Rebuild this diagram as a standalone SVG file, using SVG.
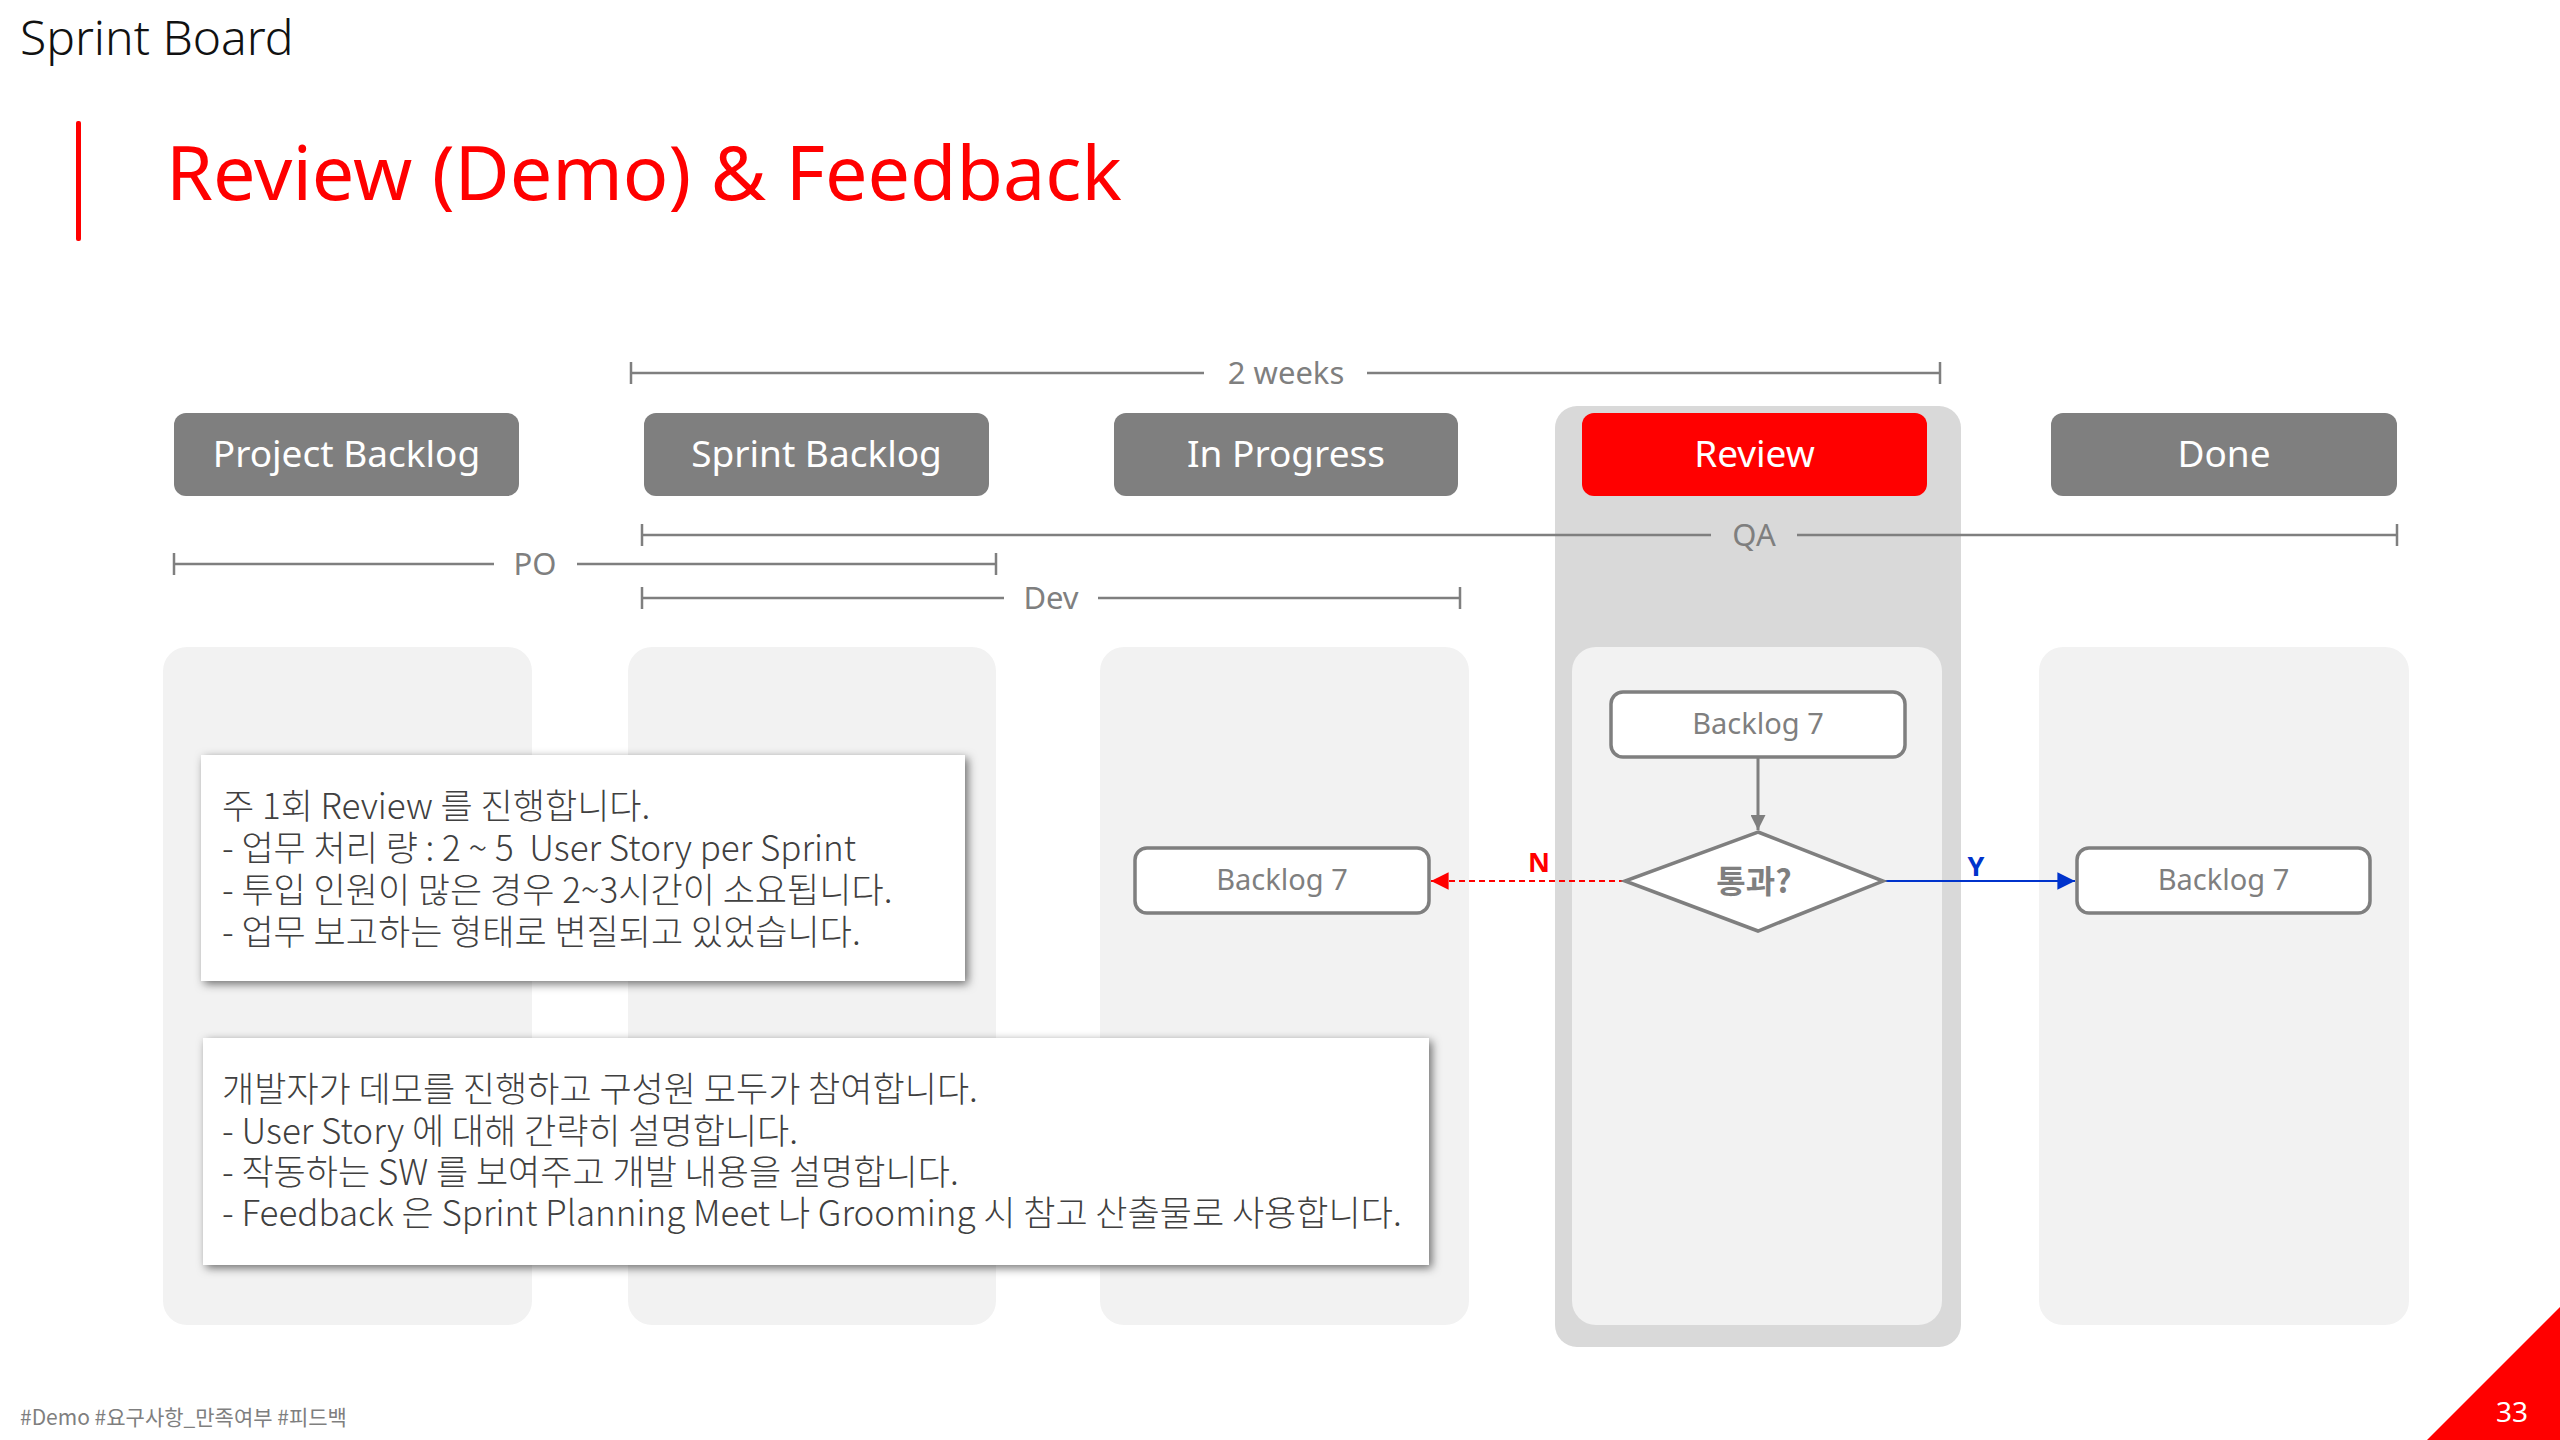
<svg xmlns="http://www.w3.org/2000/svg" width="2560" height="1440" viewBox="0 0 2560 1440">
<defs>
<style>
.lat{font-family:"Noto Sans","Noto Sans CJK KR",sans-serif}
.kr{font-family:"Noto Sans CJK KR","Noto Sans",sans-serif}
.hdr{fill:#7F7F7F}
.hdrtxt{fill:#FFFFFF;font-size:37px;text-anchor:middle}
.lane{fill:#F2F2F2}
.span{stroke:#7F7F7F;stroke-width:2.5;fill:none}
.spantxt{fill:#7F7F7F;font-size:31px;text-anchor:middle}
.card{fill:#FFFFFF;stroke:#7F7F7F;stroke-width:3.5}
.cardtxt{fill:#7F7F7F;font-size:29px;text-anchor:middle}
.body{fill:#404040;font-size:35px;font-weight:300;white-space:pre}
</style>
<filter id="sh" x="-10%" y="-20%" width="120%" height="140%">
<feDropShadow dx="3" dy="3" stdDeviation="5" flood-color="#000" flood-opacity="0.55"/>
</filter>
<marker id="ag" viewBox="0 0 10 10" refX="10" refY="5" markerWidth="5" markerHeight="5" markerUnits="strokeWidth" orient="auto"><path d="M0,0 L10,5 L0,10 z" fill="#7F7F7F"/></marker>
<marker id="ar" viewBox="0 0 10 10" refX="10" refY="5" markerWidth="8" markerHeight="8" markerUnits="strokeWidth" orient="auto"><path d="M0,0 L10,5 L0,10 z" fill="#FF0000"/></marker>
<marker id="ab" viewBox="0 0 10 10" refX="10" refY="5" markerWidth="8" markerHeight="8" markerUnits="strokeWidth" orient="auto"><path d="M0,0 L10,5 L0,10 z" fill="#0033CC"/></marker>
</defs>
<rect width="2560" height="1440" fill="#FFFFFF"/>

<g id="page-header">
<text class="lat" x="20" y="55" font-size="48" fill="#111111" font-weight="300">Sprint Board</text>
<rect x="76" y="121" width="5" height="120" fill="#FF0000" rx="2"/>
<text class="lat" x="166" y="200" font-size="75.5" fill="#FF0000">Review (Demo) &amp; Feedback</text>
</g>

<g id="review-column-bg">
<rect x="1555" y="406" width="406" height="941" rx="22" fill="#D9D9D9"/>
</g>

<g id="lanes">
<rect id="lane-project" class="lane" x="163" y="647" width="369" height="678" rx="24"/>
<rect id="lane-sprint" class="lane" x="628" y="647" width="368" height="678" rx="24"/>
<rect id="lane-progress" class="lane" x="1100" y="647" width="369" height="678" rx="24"/>
<rect id="lane-review" class="lane" x="1572" y="647" width="370" height="678" rx="24"/>
<rect id="lane-done" class="lane" x="2039" y="647" width="370" height="678" rx="24"/>
</g>

<g id="header-project-backlog">
<rect class="hdr" x="174" y="413" width="345" height="83" rx="12"/>
<text class="lat hdrtxt" x="346.5" y="467">Project Backlog</text>
</g>
<g id="header-sprint-backlog">
<rect class="hdr" x="644" y="413" width="345" height="83" rx="12"/>
<text class="lat hdrtxt" x="816.5" y="467">Sprint Backlog</text>
</g>
<g id="header-in-progress">
<rect class="hdr" x="1114" y="413" width="344" height="83" rx="12"/>
<text class="lat hdrtxt" x="1286" y="467">In Progress</text>
</g>
<g id="header-review">
<rect x="1582" y="413" width="345" height="83" rx="12" fill="#FF0000"/>
<text class="lat hdrtxt" x="1754.5" y="467">Review</text>
</g>
<g id="header-done">
<rect class="hdr" x="2051" y="413" width="346" height="83" rx="12"/>
<text class="lat hdrtxt" x="2224" y="467">Done</text>
</g>

<g id="span-2weeks">
<path class="span" d="M631,362 V384 M631,373 H1204 M1367,373 H1940 M1940,362 V384"/>
<text class="lat spantxt" x="1286" y="384">2 weeks</text>
</g>
<g id="span-qa">
<path class="span" d="M642,524 V546 M642,535 H1711 M1797,535 H2397 M2397,524 V546"/>
<text class="lat spantxt" x="1754" y="546">QA</text>
</g>
<g id="span-po">
<path class="span" d="M174,553 V575 M174,564 H494 M577,564 H996 M996,553 V575"/>
<text class="lat spantxt" x="535" y="575">PO</text>
</g>
<g id="span-dev">
<path class="span" d="M642,587 V609 M642,598 H1004 M1098,598 H1460 M1460,587 V609"/>
<text class="lat spantxt" x="1051" y="609">Dev</text>
</g>

<g id="note-review-schedule">
<rect x="201" y="755" width="764" height="226" fill="#FFFFFF" filter="url(#sh)"/>
<text class="kr body" x="222" y="819">주 1회 Review 를 진행합니다.</text>
<text class="kr body" x="222" y="861">- 업무 처리 량 : 2 ~ 5  User Story per Sprint</text>
<text class="kr body" x="222" y="903">- 투입 인원이 많은 경우 2~3시간이 소요됩니다.</text>
<text class="kr body" x="222" y="945">- 업무 보고하는 형태로 변질되고 있었습니다.</text>
</g>

<g id="note-demo">
<rect x="203" y="1038" width="1226" height="227" fill="#FFFFFF" filter="url(#sh)"/>
<text class="kr body" x="222" y="1102">개발자가 데모를 진행하고 구성원 모두가 참여합니다.</text>
<text class="kr body" x="222" y="1144">- User Story 에 대해 간략히 설명합니다.</text>
<text class="kr body" x="222" y="1185">- 작동하는 SW 를 보여주고 개발 내용을 설명합니다.</text>
<text class="kr body" x="222" y="1226">- Feedback 은 Sprint Planning Meet 나 Grooming 시 참고 산출물로 사용합니다.</text>
</g>

<g id="connectors">
<line x1="1758" y1="757" x2="1758" y2="830" stroke="#7F7F7F" stroke-width="3" marker-end="url(#ag)"/>
<line x1="1625" y1="881" x2="1431" y2="881" stroke="#FF0000" stroke-width="2.2" stroke-dasharray="6,4" marker-end="url(#ar)"/>
<line x1="1883" y1="881" x2="2075" y2="881" stroke="#0033CC" stroke-width="2.2" marker-end="url(#ab)"/>
<text class="lat" x="1539" y="872" font-size="27" font-weight="bold" fill="#FF0000" text-anchor="middle">N</text>
<text class="lat" x="1976" y="876" font-size="27" font-weight="bold" fill="#0033CC" text-anchor="middle">Y</text>
</g>

<g id="card-review-backlog7">
<rect class="card" x="1611" y="692" width="294" height="65" rx="12"/>
<text class="lat cardtxt" x="1758" y="734">Backlog 7</text>
</g>
<g id="decision-pass">
<polygon points="1758,832 1883,881 1758,931 1625,881" fill="#FFFFFF" stroke="#7F7F7F" stroke-width="3.5"/>
<text class="kr" x="1754" y="893" font-size="32" font-weight="bold" fill="#7F7F7F" text-anchor="middle">통과?</text>
</g>
<g id="card-progress-backlog7">
<rect class="card" x="1135" y="848" width="294" height="65" rx="12"/>
<text class="lat cardtxt" x="1282" y="890">Backlog 7</text>
</g>
<g id="card-done-backlog7">
<rect class="card" x="2077" y="848" width="293" height="65" rx="12"/>
<text class="lat cardtxt" x="2223.5" y="890">Backlog 7</text>
</g>

<g id="footer">
<text class="kr" x="20" y="1425" font-size="21" fill="#7F7F7F">#Demo #요구사항_만족여부 #피드백</text>
<polygon points="2427,1440 2560,1307 2560,1440" fill="#FF0000"/>
<text class="lat" x="2512" y="1422" font-size="28" fill="#FFFFFF" text-anchor="middle">33</text>
</g>
</svg>
